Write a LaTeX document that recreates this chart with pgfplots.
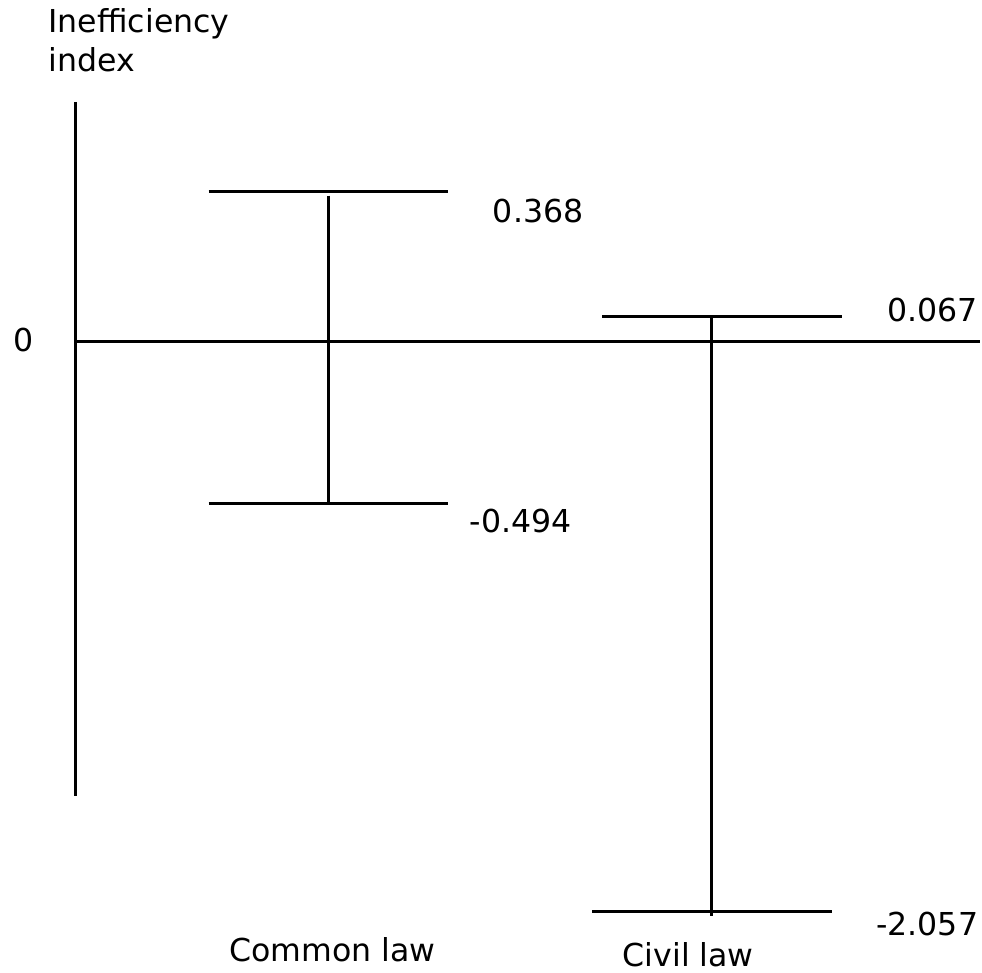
\documentclass[border=0pt]{standalone}
\usepackage{pgfplots}
\pgfplotsset{compat=1.18}
\usepackage{fontspec}
\setmainfont{DejaVu Sans}
\begin{document}
\begin{tikzpicture}
\begin{axis}[
  x=0.1mm, y=0.1mm,
  xmin=0, xmax=982, ymin=0, ymax=974,
  hide axis, clip=false,
]
\pgfplotsset{ln/.style={black, solid, line width=0.9pt, no marks}}
% bounding frame (invisible)
\path (axis cs:0,0) rectangle (axis cs:982,974);
% vertical axis
\addplot[ln] coordinates {(76,872) (76,177)};
% zero line
\addplot[ln] coordinates {(76,632) (982,632)};
% Common law: upper 0.368, lower -0.494
\addplot[ln] coordinates {(329,778) (329,468)};
\addplot[ln] coordinates {(209,782) (449,782)};
\addplot[ln] coordinates {(209,470) (449,470)};
% Civil law: upper 0.067, lower -2.057
\addplot[ln] coordinates {(713,655) (713,57)};
\addplot[ln] coordinates {(603,657) (843,657)};
\addplot[ln] coordinates {(593,61) (833,61)};
% labels
\node[anchor=base west, inner sep=0, font=\fontsize{9}{11}\selectfont] at (axis cs:48,941) {Inefficiency};
\node[anchor=base west, inner sep=0, font=\fontsize{9}{11}\selectfont] at (axis cs:48,902) {index};
\node[anchor=base west, inner sep=0, font=\fontsize{9}{11}\selectfont] at (axis cs:13,622) {0};
\node[anchor=base west, inner sep=0, font=\fontsize{9}{11}\selectfont] at (axis cs:493,751) {0.368};
\node[anchor=base west, inner sep=0, font=\fontsize{9}{11}\selectfont] at (axis cs:470,441) {-0.494};
\node[anchor=base west, inner sep=0, font=\fontsize{9}{11}\selectfont] at (axis cs:888,652) {0.067};
\node[anchor=base west, inner sep=0, font=\fontsize{9}{11}\selectfont] at (axis cs:877,37) {-2.057};
\node[anchor=base west, inner sep=0, font=\fontsize{9}{11}\selectfont] at (axis cs:229,11) {Common law};
\node[anchor=base west, inner sep=0, font=\fontsize{9}{11}\selectfont] at (axis cs:623,6) {Civil law};
\end{axis}
\end{tikzpicture}
\end{document}
